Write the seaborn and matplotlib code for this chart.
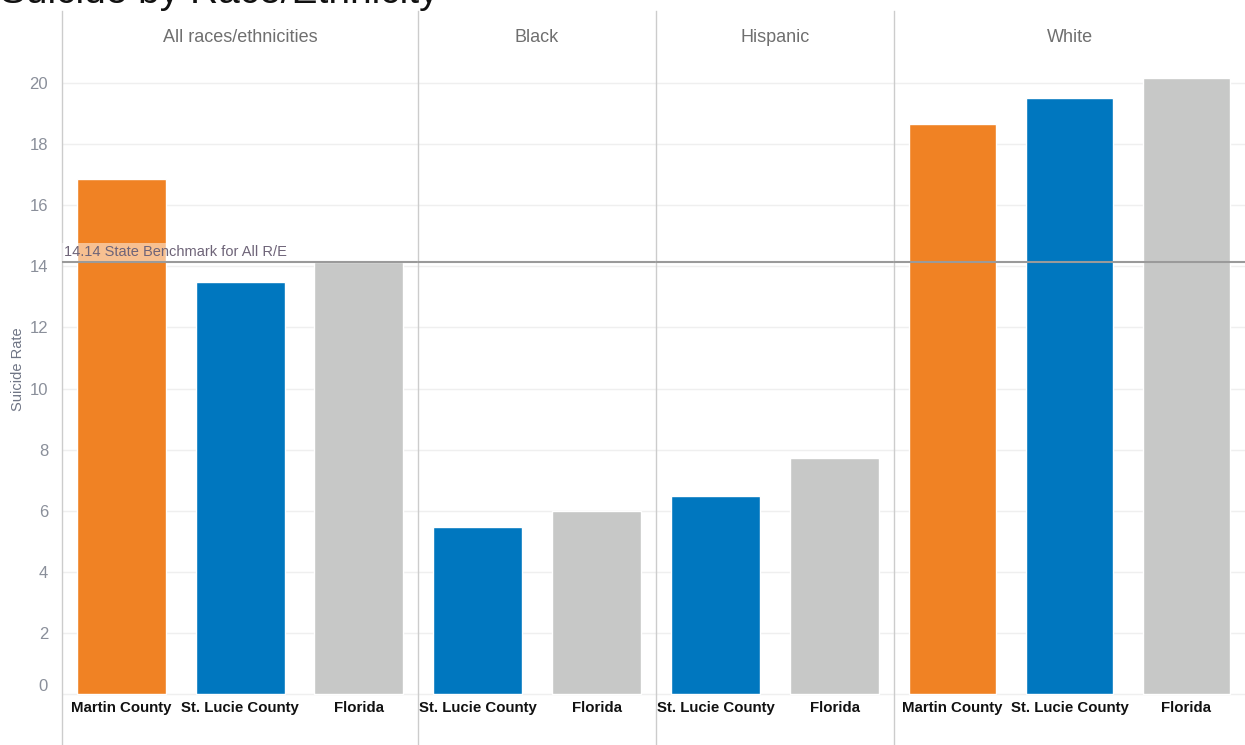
import matplotlib
matplotlib.use('Agg')
import matplotlib.pyplot as plt
import matplotlib.transforms as mtransforms
import seaborn as sns
import pandas as pd

# data
groups = ['All races/ethnicities', 'Black', 'Hispanic', 'White']
places = {
    'All races/ethnicities': ['Martin County', 'St. Lucie County', 'Florida'],
    'Black': ['St. Lucie County', 'Florida'],
    'Hispanic': ['St. Lucie County', 'Florida'],
    'White': ['Martin County', 'St. Lucie County', 'Florida'],
}
rates = {
    'All races/ethnicities': [16.86, 13.49, 14.14],
    'Black': [5.47, 5.99],
    'Hispanic': [6.48, 7.73],
    'White': [18.67, 19.51, 20.16],
}
benchmark = 14.14
yticks = [0, 2, 4, 6, 8, 10, 12, 14, 16, 18, 20]

colors = {'Martin County': '#F08224', 'St. Lucie County': '#0077BF', 'Florida': '#C7C8C7'}

sns.set_style('white')
plt.rcParams['font.family'] = ['Liberation Sans', 'DejaVu Sans']

txt_gray = '#6f6f6f'

fig = plt.figure(figsize=(12.45, 7.45), dpi=100)
gs = fig.add_gridspec(1, 4, width_ratios=[356, 238, 238, 351], wspace=0,
                      left=62 / 1245, right=1.0, top=1 - 11 / 745, bottom=0.0)

ymin, ymax = -1.67, 22.36

for i, g in enumerate(groups):
    ax = fig.add_subplot(gs[0, i])
    df = pd.DataFrame({'place': places[g], 'rate': rates[g]})
    sns.barplot(data=df, x='place', y='rate', hue='place', palette=colors,
                width=0.75, legend=False, ax=ax, saturation=1)
    ax.set_ylim(ymin, ymax)
    ax.set_xlim(-0.5, len(places[g]) - 0.5)
    for y in yticks:
        ax.axhline(y, color='#efefef', lw=1, zorder=0)
    ax.axhline(benchmark, color='#9a9a9a', lw=1.5, zorder=3)
    ax.set_xticks([])
    ax.set_xlabel('')
    ax.set_ylabel('')
    for s in ['top', 'right', 'bottom']:
        ax.spines[s].set_visible(False)
    ax.spines['left'].set_color('#cccccc')
    ax.spines['left'].set_linewidth(1)
    # category labels under the bars
    for j, p in enumerate(places[g]):
        ax.text(j, -0.47, p, ha='center', va='center', fontsize=10.8,
                fontweight='bold', color='#111111')
    # facet header
    ax.text(0.5, 21.5, g, transform=mtransforms.blended_transform_factory(ax.transAxes, ax.transData),
            ha='center', va='center', fontsize=13, color=txt_gray)
    if i == 0:
        ax.set_yticks(yticks)
        ax.tick_params(axis='y', length=0, labelsize=12, labelcolor='#8a8f9a', pad=10)
        ax.get_yticklabels()[0].set_verticalalignment('bottom')
        ax.set_ylabel('Suicide Rate', fontsize=10.5, color='#6f7585')
        ax.yaxis.set_label_coords(-0.104, 0.512)
        ax.text(-0.48, benchmark + 0.1, '14.14 State Benchmark for All R/E', fontsize=10.5,
                color='#6e6478', va='bottom', ha='left', zorder=4,
                bbox=dict(facecolor='white', alpha=0.5, edgecolor='none', pad=1.5))
    else:
        ax.set_yticks([])

fig.text(0.0, 1 - 3 / 745, 'Suicide by Race/Ethnicity', fontsize=28, color='#111111',
         ha='left', va='baseline')

fig.savefig('out.png', dpi=100)
